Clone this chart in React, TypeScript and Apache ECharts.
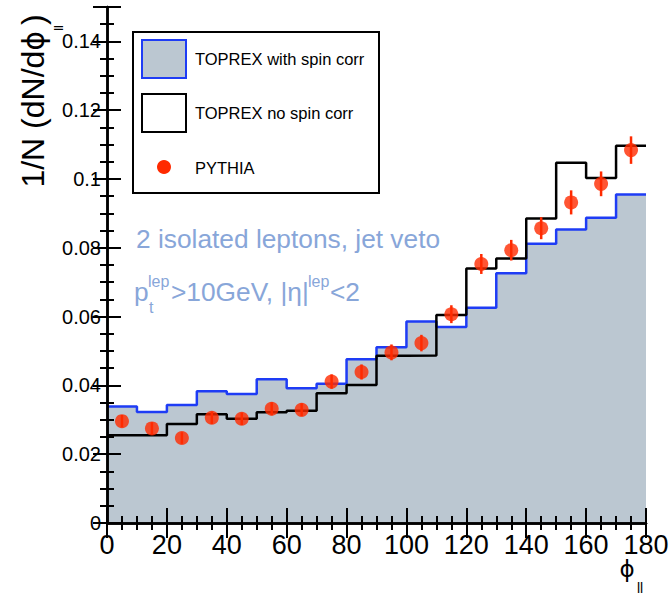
import React, { useEffect, useRef } from 'react';
import * as echarts from 'echarts';

// Bin edges of the phi_ll histogram (degrees)
const binEdges = [0, 10, 20, 30, 40, 50, 60, 70, 80, 90, 100, 110, 120, 130, 140, 150, 160, 170, 180];
// TOPREX with spin correlations (filled histogram)
const withSpin = [0.0339, 0.0323, 0.0343, 0.0383, 0.0375, 0.0418, 0.0392, 0.0405, 0.0476, 0.0511, 0.0586, 0.0570, 0.0626, 0.0726, 0.0812, 0.0853, 0.0887, 0.0955];
// TOPREX without spin correlations (open histogram)
const noSpin = [0.0255, 0.0255, 0.0288, 0.0316, 0.0303, 0.0322, 0.0326, 0.0377, 0.0401, 0.0486, 0.0487, 0.0605, 0.0740, 0.0769, 0.0885, 0.1047, 0.1003, 0.1097];
// PYTHIA points and their errors
const pythia = [0.0296, 0.0275, 0.0247, 0.0306, 0.0303, 0.0332, 0.0329, 0.0411, 0.0439, 0.0496, 0.0523, 0.0607, 0.0753, 0.0793, 0.0857, 0.0932, 0.0986, 0.1084];
const pythiaErr = [0.0018, 0.0018, 0.0017, 0.0018, 0.0018, 0.0019, 0.0019, 0.0021, 0.0022, 0.0023, 0.0024, 0.0026, 0.0029, 0.0030, 0.0032, 0.0035, 0.0036, 0.0040];

const X_MIN = 0, X_MAX = 180, X_MAJOR = 20, X_MINOR = 5;
const Y_MIN = 0, Y_MAX = 0.15, Y_MAJOR = 0.02, Y_MINOR = 0.005;

const FONT = '"Liberation Sans", Arial, Helvetica, sans-serif';
const GREEK = '"DejaVu Sans", "Liberation Sans", sans-serif';
const BLUE = '#1e3cf5';
const FILL = '#bbc7d1';
const RED = '#ff2a00';
const NOTE = '#88a6d9';

function stepData(vals: number[]) {
  return binEdges.map((e, i) => [e, vals[Math.min(i, vals.length - 1)]]);
}
const binCenters = binEdges.slice(0, -1).map((e, i) => (e + binEdges[i + 1]) / 2);

export default function App() {
  const ref = useRef<HTMLDivElement>(null);
  useEffect(() => {
    if (!ref.current) return;
    const chart = echarts.init(ref.current, undefined, { renderer: 'svg' });

    const lineStyle = { color: '#000', width: 2.5 };
    const tickStyle = { color: '#000', width: 2 };
    const xBase = { type: 'value', min: X_MIN, max: X_MAX, splitLine: { show: false }, z: 10 };
    const yBase = { type: 'value', min: Y_MIN, max: Y_MAX, splitLine: { show: false }, z: 10 };

    const option: any = {
      animation: false,
      grid: { left: 107, right: 26, top: 7, bottom: 76, containLabel: false },
      xAxis: [
        {
          ...xBase, position: 'bottom', interval: X_MAJOR,
          axisLine: { show: true, lineStyle },
          axisTick: { show: true, inside: true, length: 15, lineStyle: tickStyle },
          axisLabel: { show: true, fontSize: 27, lineHeight: 18, color: '#000', margin: 12.5, fontFamily: FONT },
        },
        {
          ...xBase, position: 'bottom', interval: X_MINOR,
          axisLine: { show: false },
          axisTick: { show: true, inside: true, length: 7, lineStyle: tickStyle },
          axisLabel: { show: false },
        },
        {
          ...xBase, position: 'top', interval: X_MAJOR,
          axisLine: { show: true, lineStyle },
          axisTick: { show: true, inside: true, length: 15, lineStyle: tickStyle },
          axisLabel: { show: false },
        },
        {
          ...xBase, position: 'top', interval: X_MINOR,
          axisLine: { show: false },
          axisTick: { show: true, inside: true, length: 7, lineStyle: tickStyle },
          axisLabel: { show: false },
        },
      ],
      yAxis: [
        {
          ...yBase, position: 'left', interval: Y_MAJOR,
          axisLine: { show: true, lineStyle },
          axisTick: { show: true, inside: true, length: 14, lineStyle: tickStyle },
          axisLabel: {
            show: true, fontSize: 20, color: '#000', margin: 6, fontFamily: FONT,
            formatter: (v: number) => (v > 0.1405 ? '' : String(+v.toFixed(3))),
          },
        },
        {
          ...yBase, position: 'left', interval: Y_MINOR,
          axisLine: { show: false },
          axisTick: { show: true, inside: true, length: 7, lineStyle: tickStyle },
          axisLabel: { show: false },
        },
        {
          ...yBase, position: 'right', interval: Y_MAJOR,
          axisLine: { show: true, lineStyle },
          axisTick: { show: true, inside: true, length: 14, lineStyle: tickStyle },
          axisLabel: { show: false },
        },
        {
          ...yBase, position: 'right', interval: Y_MINOR,
          axisLine: { show: false },
          axisTick: { show: true, inside: true, length: 7, lineStyle: tickStyle },
          axisLabel: { show: false },
        },
      ],
      series: [
        {
          name: 'TOPREX with spin corr', type: 'line', step: 'end', symbol: 'none',
          xAxisIndex: 0, yAxisIndex: 0,
          data: stepData(withSpin),
          lineStyle: { color: BLUE, width: 2.5 },
          areaStyle: { color: FILL, opacity: 1, origin: 'start' },
          z: 2,
        },
        {
          name: 'TOPREX no spin corr', type: 'line', step: 'end', symbol: 'none',
          xAxisIndex: 0, yAxisIndex: 0,
          data: stepData(noSpin),
          lineStyle: { color: '#000', width: 2.5 },
          z: 3,
        },
        {
          name: 'PYTHIA err', type: 'custom', xAxisIndex: 0, yAxisIndex: 0,
          data: binCenters.map((c, i) => [c, pythia[i] - pythiaErr[i], pythia[i] + pythiaErr[i]]),
          encode: { x: 0, y: [1, 2] },
          renderItem: (params: any, api: any) => {
            const p1 = api.coord([api.value(0), api.value(1)]);
            const p2 = api.coord([api.value(0), api.value(2)]);
            return {
              type: 'line',
              shape: { x1: p1[0], y1: p1[1], x2: p2[0], y2: p2[1] },
              style: { stroke: RED, lineWidth: 2.5 },
            };
          },
          z: 4,
        },
        {
          name: 'PYTHIA', type: 'scatter', xAxisIndex: 0, yAxisIndex: 0,
          data: binCenters.map((c, i) => [c, pythia[i]]),
          symbol: 'circle', symbolSize: 14,
          itemStyle: { color: RED },
          z: 5,
        },
      ],
      graphic: [
        // legend box
        { type: 'rect', z: 100, shape: { x: 133, y: 32, width: 246, height: 161 }, style: { fill: '#fff', stroke: '#000', lineWidth: 2 } },
        { type: 'rect', z: 101, shape: { x: 142, y: 40, width: 44, height: 38 }, style: { fill: FILL, stroke: BLUE, lineWidth: 2 } },
        { type: 'text', z: 101, x: 195, y: 58.5, style: { text: 'TOPREX with spin corr', fontSize: 16.5, fontFamily: FONT, fill: '#000', align: 'left', verticalAlign: 'middle' } },
        { type: 'rect', z: 101, shape: { x: 142, y: 94, width: 44, height: 38 }, style: { fill: '#fff', stroke: '#000', lineWidth: 2 } },
        { type: 'text', z: 101, x: 195, y: 112.5, style: { text: 'TOPREX no spin corr', fontSize: 16.5, fontFamily: FONT, fill: '#000', align: 'left', verticalAlign: 'middle' } },
        { type: 'circle', z: 101, shape: { cx: 164, cy: 167, r: 7 }, style: { fill: RED } },
        { type: 'text', z: 101, x: 195, y: 168, style: { text: 'PYTHIA', fontSize: 16.5, fontFamily: FONT, fill: '#000', align: 'left', verticalAlign: 'middle' } },
        // annotations
        { type: 'text', z: 101, x: 136, y: 239, style: { text: '2 isolated leptons, jet veto', fontSize: 26.3, fontFamily: FONT, fill: NOTE, align: 'left', verticalAlign: 'middle' } },
        { type: 'text', z: 101, x: 134, y: 291.5, style: { text: 'p', fontSize: 26.3, fontFamily: FONT, fill: NOTE, align: 'left', verticalAlign: 'middle' } },
        { type: 'text', z: 101, x: 148, y: 281, style: { text: 'lep', fontSize: 16, fontFamily: FONT, fill: NOTE, align: 'left', verticalAlign: 'middle' } },
        { type: 'text', z: 101, x: 149, y: 307, style: { text: 't', fontSize: 16, fontFamily: FONT, fill: NOTE, align: 'left', verticalAlign: 'middle' } },
        { type: 'text', z: 101, x: 171, y: 291.5, style: { text: '>10GeV, |η|', fontSize: 26.3, fontFamily: FONT, fill: NOTE, align: 'left', verticalAlign: 'middle' } },
        { type: 'text', z: 101, x: 308, y: 281, style: { text: 'lep', fontSize: 16, fontFamily: FONT, fill: NOTE, align: 'left', verticalAlign: 'middle' } },
        { type: 'text', z: 101, x: 330, y: 291.5, style: { text: '<2', fontSize: 26.3, fontFamily: FONT, fill: NOTE, align: 'left', verticalAlign: 'middle' } },
        // y axis title
        {
          type: 'text', z: 101, x: 33, y: 101, rotation: Math.PI / 2,
          style: {
            text: '1/N (dN/d{g|ϕ}{s|ll})', fontSize: 32, fontFamily: FONT, fill: '#000',
            align: 'center', verticalAlign: 'middle', lineHeight: 64,
            rich: {
              g: { fontSize: 30, fontFamily: GREEK, fill: '#000' },
              s: { fontSize: 13, lineHeight: 13, fontFamily: FONT, fill: '#000', verticalAlign: 'bottom' },
            },
          },
        },
        // x axis title
        { type: 'text', z: 101, x: 627, y: 569, style: { text: 'ϕ', fontSize: 23, lineHeight: 20, fontFamily: GREEK, fill: '#000', align: 'center', verticalAlign: 'middle' } },
        { type: 'text', z: 101, x: 637, y: 588, style: { text: 'll', fontSize: 14, fontFamily: FONT, fill: '#000', align: 'left', verticalAlign: 'middle' } },
      ],
    };
    chart.setOption(option);
    return () => chart.dispose();
  }, []);
  return <div ref={ref} style={{ position: 'fixed', left: 0, top: 0, width: 672, height: 599, background: '#fff' }} />;
}
